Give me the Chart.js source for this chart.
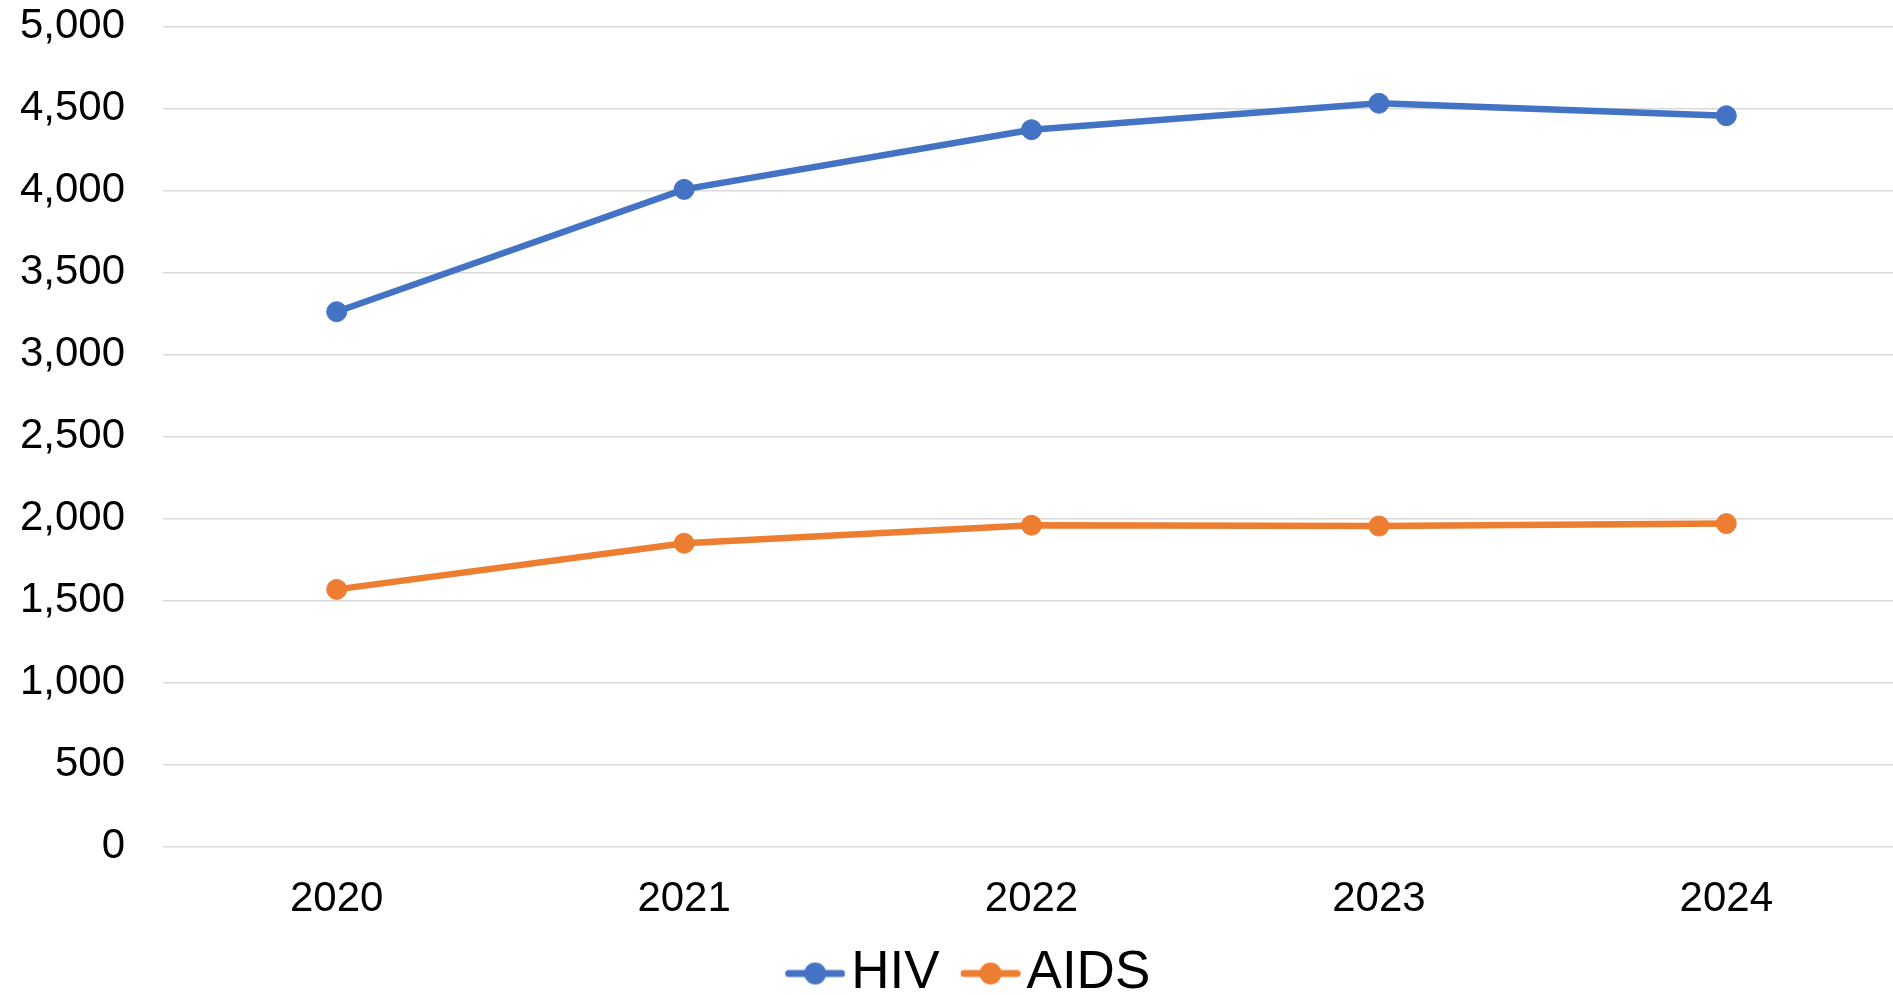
<!DOCTYPE html>
<html>
<head>
<meta charset="utf-8">
<script src="https://cdn.jsdelivr.net/npm/chart.js@4"></script>
<style>
  html, body { margin: 0; padding: 0; background: #fff; overflow: hidden; }
  #wrap { width: 1900px; height: 1010px; }
</style>
</head>
<body>
<div id="wrap"><canvas id="c" width="1900" height="1010"></canvas></div>
<script>
// Yearly counts of HIV and AIDS cases
const years = ['2020', '2021', '2022', '2023', '2024'];
const hivCases = [3262, 4008, 4372, 4533, 4457];
const aidsCases = [1569, 1850, 1960, 1955, 1970];
const yTicks = [0, 500, 1000, 1500, 2000, 2500, 3000, 3500, 4000, 4500, 5000];

const HIV_COLOR = '#4472C4';
const AIDS_COLOR = '#ED7D31';
const FONT = '"Liberation Sans", Arial, sans-serif';

// Layout geometry
const CANVAS_H = 1010;
const PAD_LEFT = 14.4;
const PLOT_LEFT = 163;
const PLOT_BOTTOM = 846.7;
const LEGEND_FONT = 53;
const LEGEND_BOX_W = 60.5;
const LEGEND_GAP = 0;
const MARKER_SHIFT = 20.75;

// Legend marker: a short line with a dot in the middle, shifted inside its box
function lineMarker(color) {
  const half = Math.ceil(MARKER_SHIFT + 30);
  const m = document.createElement('canvas');
  m.width = half * 2; m.height = 24;
  const g = m.getContext('2d');
  const cx = half + MARKER_SHIFT;
  g.strokeStyle = color;
  g.lineWidth = 7;
  g.lineCap = 'round';
  g.beginPath();
  g.moveTo(cx - 26.5, 12);
  g.lineTo(cx + 26.5, 12);
  g.stroke();
  g.fillStyle = color;
  g.beginPath();
  g.arc(cx, 12, 11, 0, Math.PI * 2);
  g.fill();
  return m;
}

Chart.defaults.color = '#000';
Chart.defaults.font.family = FONT;

const legendHeight = LEGEND_FONT + LEGEND_GAP + 10;

new Chart(document.getElementById('c'), {
  type: 'line',
  data: {
    labels: years,
    datasets: [
      {
        label: 'HIV',
        data: hivCases,
        borderColor: HIV_COLOR,
        backgroundColor: HIV_COLOR,
        pointBackgroundColor: HIV_COLOR,
        pointBorderColor: HIV_COLOR,
        borderWidth: 6.5,
        pointRadius: 10,
        pointBorderWidth: 1,
        tension: 0
      },
      {
        label: 'AIDS',
        data: aidsCases,
        borderColor: AIDS_COLOR,
        backgroundColor: AIDS_COLOR,
        pointBackgroundColor: AIDS_COLOR,
        pointBorderColor: AIDS_COLOR,
        borderWidth: 6.5,
        pointRadius: 10,
        pointBorderWidth: 1,
        tension: 0
      }
    ]
  },
  options: {
    responsive: false,
    animation: false,
    devicePixelRatio: 1,
    layout: { autoPadding: false, padding: { top: 26.7, left: PAD_LEFT, right: 0, bottom: 0 } },
    scales: {
      x: {
        offset: true,
        grid: { display: false, drawTicks: false },
        border: { display: false },
        ticks: { padding: 28, font: { size: 42 }, color: '#000' },
        afterFit: (s) => {
          s.height = CANVAS_H - legendHeight - PLOT_BOTTOM;
          s.paddingLeft = 0;
          s.paddingRight = 0;
        }
      },
      y: {
        min: 0,
        max: 5000,
        afterBuildTicks: (s) => { s.ticks = yTicks.map(v => ({ value: v })); },
        grid: { color: '#d9d9d9', lineWidth: 1.5, drawTicks: false },
        border: { display: false },
        ticks: {
          padding: 38,
          font: { size: 42 },
          color: '#000',
          callback: (v) => v.toLocaleString('en-US')
        },
        afterFit: (s) => {
          s.width = PLOT_LEFT - PAD_LEFT;
          s.paddingTop = 0;
          s.paddingBottom = 0;
        }
      }
    },
    plugins: {
      tooltip: { enabled: false },
      legend: {
        position: 'bottom',
        labels: {
          usePointStyle: true,
          pointStyleWidth: LEGEND_BOX_W,
          padding: LEGEND_GAP,
          color: '#000',
          font: { size: LEGEND_FONT },
          generateLabels: (chart) => chart.data.datasets.map((ds, i) => ({
            text: ds.label,
            pointStyle: lineMarker(ds.borderColor),
            fillStyle: ds.borderColor,
            strokeStyle: ds.borderColor,
            lineWidth: 0,
            hidden: false,
            datasetIndex: i
          }))
        }
      }
    }
  }
});
</script>
</body>
</html>
